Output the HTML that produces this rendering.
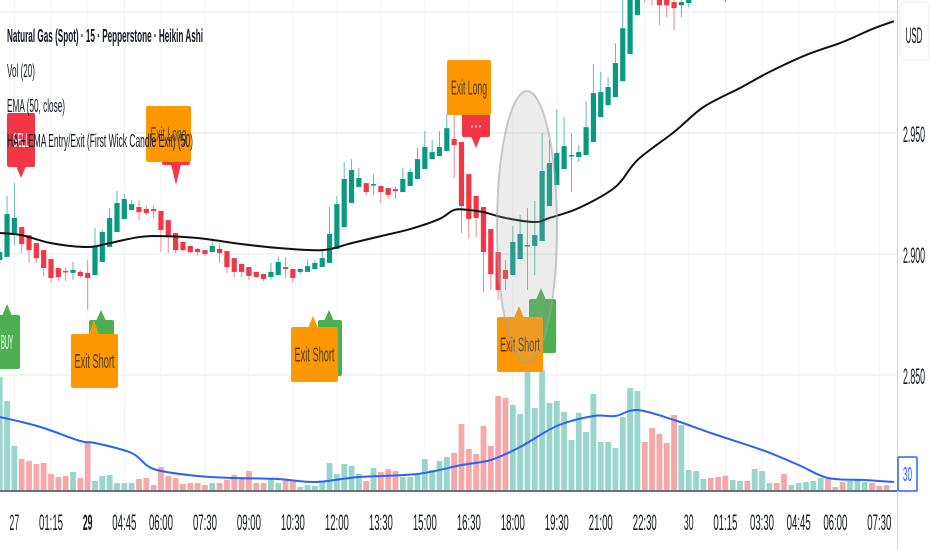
<!DOCTYPE html>
<html><head><meta charset="utf-8"><style>
html,body{margin:0;padding:0;background:#fff;}
svg{display:block;font-family:"Liberation Sans",sans-serif;}
</style></head><body>
<svg id="chart" width="932" height="550" viewBox="0 0 932 550" xmlns="http://www.w3.org/2000/svg">
<g id="grid"></g><g id="vol"></g><g id="candles"></g><g id="lines"></g><g id="marks"></g><g id="axes"></g><g id="legend"></g>
</svg>
<script>
const openP=[2.8975,2.8988,2.9078,2.9111,2.9078,2.9045,2.9016,2.8979,2.8942,2.8930,
2.8922,2.8926,2.8922,2.8913,2.8967,2.9029,2.9091,2.9145,2.9182,2.9194,
2.9186,2.9186,2.9178,2.9140,2.9087,2.9050,2.9033,2.9021,2.9016,2.9008,
2.9021,2.9012,2.8983,2.8959,2.8946,2.8926,2.8917,2.8905,2.8913,2.8946,
2.8938,2.8926,2.8926,2.8938,2.8946,2.8963,2.9021,2.9111,2.9211,2.9277,
2.9293,2.9285,2.9281,2.9273,2.9268,2.9256,2.9281,2.9310,2.9351,2.9392,
2.9405,2.9425,2.9475,2.9463,2.9330,2.9240,2.9194,2.9103,2.9008,2.8934,
2.8913,2.8979,2.9033,2.9033,2.9054,2.9198,2.9285,2.9351,2.9405,2.9401,
2.9409,2.9463,2.9566,2.9615,2.9648,2.9714,2.9826,2.9987,3.0150,3.0120,
3.0070,3.0060,3.0041,3.0028,3.0037,3.0080,3.0120,3.0150,3.0130,3.0110,
3.0090,3.0120,3.0150,3.0140,3.0170,3.0200,3.0220,3.0200,3.0180,3.0200,
3.0220,3.0240,3.0260,3.0290,3.0270,3.0260,3.0250,3.0270,3.0290,3.0300,3.0290,3.0280];
const highP=[2.9025,2.9240,2.9293,2.9111,2.9078,2.9045,2.9016,2.8979,2.8942,2.8946,
2.8967,2.8934,2.8975,2.9107,2.9099,2.9190,2.9260,2.9248,2.9223,2.9223,
2.9202,2.9202,2.9178,2.9140,2.9087,2.9050,2.9037,2.9025,2.9016,2.9066,
2.9045,2.9012,2.8983,2.8959,2.8946,2.8926,2.8917,2.8963,2.8988,2.8988,
2.8938,2.8938,2.8979,2.8975,2.9021,2.9194,2.9240,2.9380,2.9392,2.9355,
2.9293,2.9330,2.9281,2.9273,2.9277,2.9355,2.9355,2.9438,2.9508,2.9471,
2.9508,2.9582,2.9603,2.9463,2.9330,2.9240,2.9194,2.9103,2.9008,2.8975,
2.9116,2.9161,2.9190,2.9219,2.9500,2.9471,2.9595,2.9566,2.9500,2.9450,
2.9632,2.9785,2.9752,2.9731,2.9871,3.0049,3.0132,3.0170,3.0170,3.0140,
3.0075,3.0065,3.0049,3.0049,3.0090,3.0140,3.0170,3.0160,3.0140,3.0120,
3.0130,3.0160,3.0170,3.0190,3.0220,3.0230,3.0230,3.0210,3.0210,3.0230,
3.0250,3.0270,3.0300,3.0300,3.0280,3.0270,3.0280,3.0300,3.0310,3.0310,3.0300,3.0290];
const lowP=[2.8954,2.8988,2.9037,2.9004,2.8963,2.8963,2.8909,2.8880,2.8888,2.8888,
2.8893,2.8901,2.8769,2.8913,2.8967,2.9029,2.9091,2.9145,2.9182,2.9140,
2.9161,2.9149,2.9008,2.9004,2.9004,2.9012,2.9004,2.8992,2.8992,2.9008,
2.8963,2.8922,2.8905,2.8905,2.8893,2.8901,2.8888,2.8893,2.8913,2.8901,
2.8880,2.8917,2.8926,2.8938,2.8946,2.8963,2.9021,2.9111,2.9211,2.9277,
2.9240,2.9244,2.9211,2.9227,2.9227,2.9256,2.9281,2.9310,2.9351,2.9392,
2.9405,2.9425,2.9314,2.9087,2.9066,2.9070,2.8843,2.8851,2.8810,2.8851,
2.8913,2.8979,2.8851,2.8913,2.9054,2.9198,2.9285,2.9351,2.9256,2.9380,
2.9409,2.9463,2.9566,2.9615,2.9648,2.9714,2.9826,2.9987,3.0040,3.0028,
2.9946,2.9979,2.9925,2.9979,3.0020,3.0070,3.0110,3.0100,3.0080,3.0041,
3.0080,3.0110,3.0120,3.0130,3.0160,3.0190,3.0180,3.0150,3.0170,3.0190,
3.0210,3.0230,3.0250,3.0250,3.0240,3.0230,3.0240,3.0260,3.0280,3.0280,3.0270,3.0260];
const closeP=[2.9008,2.9165,2.9149,2.9041,2.9016,2.8983,2.8942,2.8901,2.8905,2.8926,
2.8934,2.8909,2.8901,2.9029,2.9091,2.9149,2.9211,2.9227,2.9206,2.9173,
2.9169,2.9178,2.9099,2.9070,2.9016,2.9016,2.9008,2.9008,2.9000,2.9033,
2.9004,2.8946,2.8926,2.8926,2.8909,2.8905,2.8897,2.8926,2.8967,2.8938,
2.8901,2.8938,2.8950,2.8963,2.8983,2.9083,2.9206,2.9310,2.9347,2.9314,
2.9256,2.9289,2.9256,2.9244,2.9260,2.9310,2.9339,2.9392,2.9442,2.9421,
2.9442,2.9520,2.9450,2.9198,2.9145,2.9149,2.9008,2.8917,2.8851,2.8897,
2.9050,2.9083,2.9037,2.9078,2.9343,2.9376,2.9417,2.9446,2.9409,2.9421,
2.9524,2.9665,2.9669,2.9690,2.9789,2.9933,3.0090,3.0132,3.0110,3.0070,
3.0028,3.0028,3.0016,3.0041,3.0070,3.0120,3.0150,3.0130,3.0110,3.0090,
3.0120,3.0150,3.0140,3.0170,3.0200,3.0220,3.0200,3.0180,3.0200,3.0220,
3.0240,3.0260,3.0290,3.0270,3.0260,3.0250,3.0270,3.0290,3.0300,3.0290,3.0280,3.0270];
const volume=[113,89,44,31,29,26,27,16,13,14,18,12,47,9,14,15,7,7,7,11,
12,5,23,14,12,6,7,7,5,7,7,10,15,13,19,7,7,11,7,10,
9,3,5,4,8,27,16,26,24,16,9,22,18,21,19,13,13,16,31,20,
29,33,37,66,41,36,64,44,94,92,85,76,121,82,120,87,89,78,50,77,
58,96,48,48,42,73,102,99,48,62,56,47,75,65,20,19,11,12,13,14,
10,9,9,21,19,7,7,16,5,7,8,9,12,11,3,8,9,10,8,7,4,5];
const emaIdx=[0,3,7,12,15,19,22,27,33,38,44,48,52,56,60,62,64,66,69,73,75,79,84,87,92,96,101,105,110,115,119,122];
const emaVal=[2.9087,2.9078,2.9045,2.9029,2.9045,2.9070,2.9074,2.9066,2.9041,2.9025,2.9016,2.9045,2.9074,2.9103,2.9145,2.9182,2.9182,2.9173,2.9149,2.9132,2.9149,2.9190,2.9277,2.9388,2.9504,2.9607,2.9686,2.9752,2.9822,2.9876,2.9929,2.9962];
const smaIdx=[0,3,6,11,13,18,21,27,32,38,43,49,57,63,67,71,76,81,84,87,92,97,104,109,113,118,122];
const smaVal=[73,68,62,49,47,37,21,14,12,11,8,13,16,25,30,43,64,74,74,80,70,57,40,25,12,10,8];
const priceTicks=[2.850,2.900,2.950,3.000];
const timeIdx=[2,7,12,17,22,28,34,40,46,52,58,64,70,76,82,88,94,99,104,109,114,120];
const timeLbl=["27","01:15","29","04:45","06:00","07:30","09:00","10:30","12:00","13:30","15:00","16:30","18:00","19:30","21:00","22:30","30","01:15","03:30","04:45","06:00","07:30"];

const NS="http://www.w3.org/2000/svg";
const PW=897;
const xOf=i=>7.33*i-0.3;
const yOf=p=>254-(p-2.900)*2420;
const vY=v=>490-v;
function mk(tag,attrs,parent){const e=document.createElementNS(NS,tag);for(const k in attrs)e.setAttribute(k,attrs[k]);parent.appendChild(e);return e;}
const G=id=>document.getElementById(id);
const GREEN="#089981",RED="#f23645";
function smooth(pts){let d='M'+pts[0][0]+','+pts[0][1];
 for(let i=0;i<pts.length-1;i++){const p0=pts[Math.max(0,i-1)],p1=pts[i],p2=pts[i+1],p3=pts[Math.min(pts.length-1,i+2)];
 const c1x=p1[0]+(p2[0]-p0[0])/6,c1y=p1[1]+(p2[1]-p0[1])/6,c2x=p2[0]-(p3[0]-p1[0])/6,c2y=p2[1]-(p3[1]-p1[1])/6;
 d+=` C${c1x},${c1y} ${c2x},${c2y} ${p2[0]},${p2[1]}`;}return d;}

priceTicks.forEach(p=>{const l=mk('line',{x1:0,x2:PW,y1:yOf(p),y2:yOf(p),stroke:'#eef0f4','stroke-width':1.5},G('grid'));

});
timeIdx.forEach(i=>{const l=mk('line',{x1:xOf(i),x2:xOf(i),y1:0,y2:490,stroke:'#f2f3f6','stroke-width':1},G('grid'));

});

volume.forEach((v,i)=>{const up=closeP[i]>=openP[i];
const r=mk('rect',{x:xOf(i)-2.9,y:vY(v),width:5.8,height:v,fill:up?'#98d5cb':'#f6a8a8'},G('vol'));

});
const sl=mk('path',{d:smooth(smaIdx.map((k,j)=>[xOf(k),vY(smaVal[j])])),fill:'none',stroke:'#2962ff','stroke-width':2},G('lines'));



openP.forEach((o,i)=>{const c=closeP[i],up=c>=o,col=up?GREEN:RED,x=xOf(i);
const g=mk('g',{},G('candles'));


mk('line',{x1:x,x2:x,y1:yOf(highP[i]),y2:yOf(lowP[i]),stroke:up?'#5cbfae':'#f5848e','stroke-width':1},g);
const t=Math.min(yOf(o),yOf(c)),h=Math.max(1.5,Math.abs(yOf(o)-yOf(c)));
mk('rect',{x:x-2.6,y:t,width:5.2,height:h,fill:col},g);});

const el=mk('path',{d:smooth(emaIdx.map((k,j)=>[xOf(k),yOf(emaVal[j])])),fill:'none',stroke:'#111','stroke-width':2},G('lines'));



function bubble(name,x,y,w,h,px,tipY,fill,text,tc){
 const g=mk('g',{},G('marks'));
 
 
 const down=tipY>y+h;
 if(down) mk('polygon',{points:`${px-5},${y+h-1} ${px+5},${y+h-1} ${px},${tipY}`,fill},g);
 else mk('polygon',{points:`${px-5},${y+1} ${px+5},${y+1} ${px},${tipY}`,fill},g);
 mk('rect',{x,y,width:w,height:h,rx:2,fill},g);
 if(text){const t=mk('text',{x:x+w/2,y:y+h/2+7,'text-anchor':'middle','font-size':20,fill:tc,textLength:Math.min(w-6,text.length*4),lengthAdjust:'spacingAndGlyphs'},g);t.textContent=text;}
}
bubble('sell-label-1',7,113,28,54,21,178,RED,'SELL','#fff');
bubble('sell-label-2',162,140,28,25,176,185,RED,'','#fff');
bubble('exit-long-label-1',146,106,45,56,168,140,'#ff9800','Exit Long','#5a4a2a');
bubble('sell-label-3',462,113,28,24,476,148,RED,'···','#fff');
bubble('exit-long-label-2',447,60,44,55,469,92,'#ff9800','Exit Long','#4a3c20');
bubble('buy-label-1',-6,315,26,54,7,304,'#4caf50','BUY','#fff');
bubble('buy-label-2',89,320,25,30,101,310,'#4caf50','','#fff');
bubble('exit-short-label-1',71,334,47,54,94,320,'#ff9800','Exit Short','#4a3c20');
bubble('buy-label-3',318,320,24,56,329,310,'#4caf50','','#fff');
bubble('exit-short-label-2',291,327,47,55,313,316,'#ff9800','Exit Short','#4a3c20');
bubble('buy-label-4',529,299,27,54,541,288,'#4caf50','','#fff');
bubble('exit-short-label-3',497,317,46,55,519,306,'#ff9800','Exit Short','#4a3c20');
const ell=mk('ellipse',{cx:527,cy:227,rx:30,ry:136,fill:'rgba(170,170,170,0.22)',stroke:'rgba(160,160,160,0.55)','stroke-width':2},G('marks'));



const ax=G('axes');
mk('rect',{x:PW,y:0,width:35,height:550,fill:'#fff'},ax);
mk('rect',{x:0,y:492,width:932,height:58,fill:'#fff'},ax);
mk('line',{x1:PW+0.5,x2:PW+0.5,y1:0,y2:550,stroke:'#d1d4dc','stroke-width':1},ax);
mk('line',{x1:0,x2:PW,y1:491,y2:491,stroke:'#6e7079','stroke-width':2},ax);
const usd=mk('rect',{x:900,y:2,width:29,height:58,rx:4,fill:'#fff',stroke:'#eceef2'},ax);


const ut=mk('text',{x:914,y:43,'text-anchor':'middle','font-size':22,fill:'#131722',textLength:17,lengthAdjust:'spacingAndGlyphs'},ax);ut.textContent='USD';


priceTicks.forEach(p=>{if(p>=3)return;const t=mk('text',{x:903,y:yOf(p)+9,'font-size':22,fill:'#131722',textLength:22,lengthAdjust:'spacingAndGlyphs'},ax);t.textContent=p.toFixed(3);

});
const vb=mk('rect',{x:898,y:457,width:19,height:34,fill:'#fff',stroke:'#2962ff','stroke-width':1.5,rx:1},ax);


const vt=mk('text',{x:907.5,y:481,'text-anchor':'middle','font-size':20,fill:'#2962ff',textLength:9,lengthAdjust:'spacingAndGlyphs'},ax);vt.textContent='30';
timeIdx.forEach((k,j)=>{const s=timeLbl[j];const bold=(s==='29');
const t=mk('text',{x:xOf(k),y:530,'text-anchor':'middle','font-size':22,'font-weight':bold?'bold':'normal',fill:'#131722',textLength:s.length*4.8,lengthAdjust:'spacingAndGlyphs'},ax);t.textContent=s;

});

const lg=G('legend');
[["Natural Gas (Spot) · 15 · Pepperstone · Heikin Ashi",42,196,'bold','symbol-title'],
 ["Vol (20)",77,28,'normal','volume-legend'],
 ["EMA (50, close)",112,58,'normal','ema-legend'],
 ["HA + EMA Entry/Exit (First Wick Candle Exit) (50)",147,186,'normal','strategy-legend']].forEach(r=>{
 const t=mk('text',{x:7,y:r[1],'font-size':18,'font-weight':r[3],fill:'#131722',textLength:r[2],lengthAdjust:'spacingAndGlyphs'},lg);t.textContent=r[0];
 
 });
</script>
</body></html>
